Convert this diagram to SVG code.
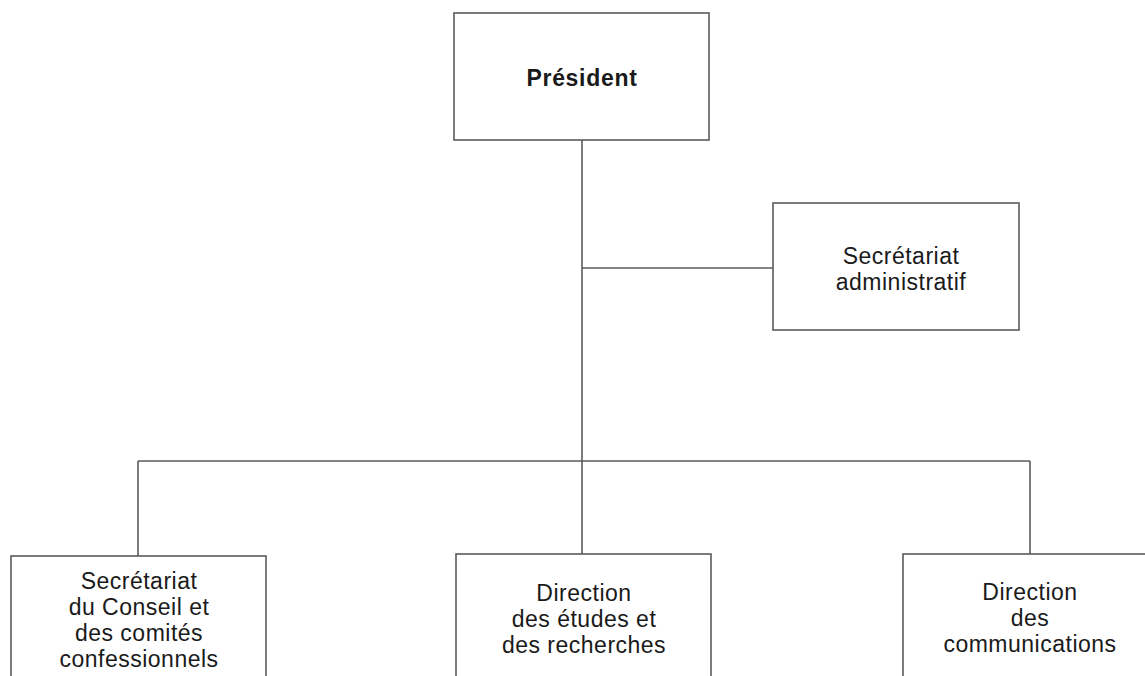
<svg xmlns="http://www.w3.org/2000/svg" width="1145" height="676" viewBox="0 0 1145 676">
<style>
.box{fill:#fff;stroke:#5a5a5a;stroke-width:1.6}
.con{fill:none;stroke:#5a5a5a;stroke-width:1.6}
text{font-family:"Liberation Sans",Arial,sans-serif;font-size:23px;fill:#1a1a1a;text-anchor:middle;letter-spacing:0.5px}
.b{font-weight:bold;letter-spacing:0.7px}
</style>
<rect width="1145" height="676" fill="#fff"/>
<g id="connectors">
<line class="con" x1="582" y1="140" x2="582" y2="555"/>
<line class="con" x1="582" y1="268" x2="773" y2="268"/>
<line class="con" x1="138" y1="461" x2="1030" y2="461"/>
<line class="con" x1="138" y1="461" x2="138" y2="556"/>
<line class="con" x1="1030" y1="461" x2="1030" y2="554"/>
</g>
<g id="president">
<rect class="box" x="454" y="13" width="255" height="127"/>
<text class="b" x="582" y="86">Président</text>
</g>
<g id="secretariat-administratif">
<rect class="box" x="773" y="203" width="246" height="127"/>
<text x="901" y="264">Secrétariat</text>
<text x="901" y="290">administratif</text>
</g>
<g id="secretariat-conseil">
<rect class="box" x="11" y="556" width="255" height="140"/>
<text x="139" y="589">Secrétariat</text>
<text x="139" y="615">du Conseil et</text>
<text x="139" y="641">des comités</text>
<text x="139" y="667">confessionnels</text>
</g>
<g id="direction-etudes">
<rect class="box" x="456" y="554" width="255" height="140"/>
<text x="584" y="601">Direction</text>
<text x="584" y="627">des études et</text>
<text x="584" y="653">des recherches</text>
</g>
<g id="direction-communications">
<rect class="box" x="903" y="554" width="255" height="140"/>
<text x="1030" y="600">Direction</text>
<text x="1030" y="626">des</text>
<text x="1030" y="652">communications</text>
</g>
</svg>
